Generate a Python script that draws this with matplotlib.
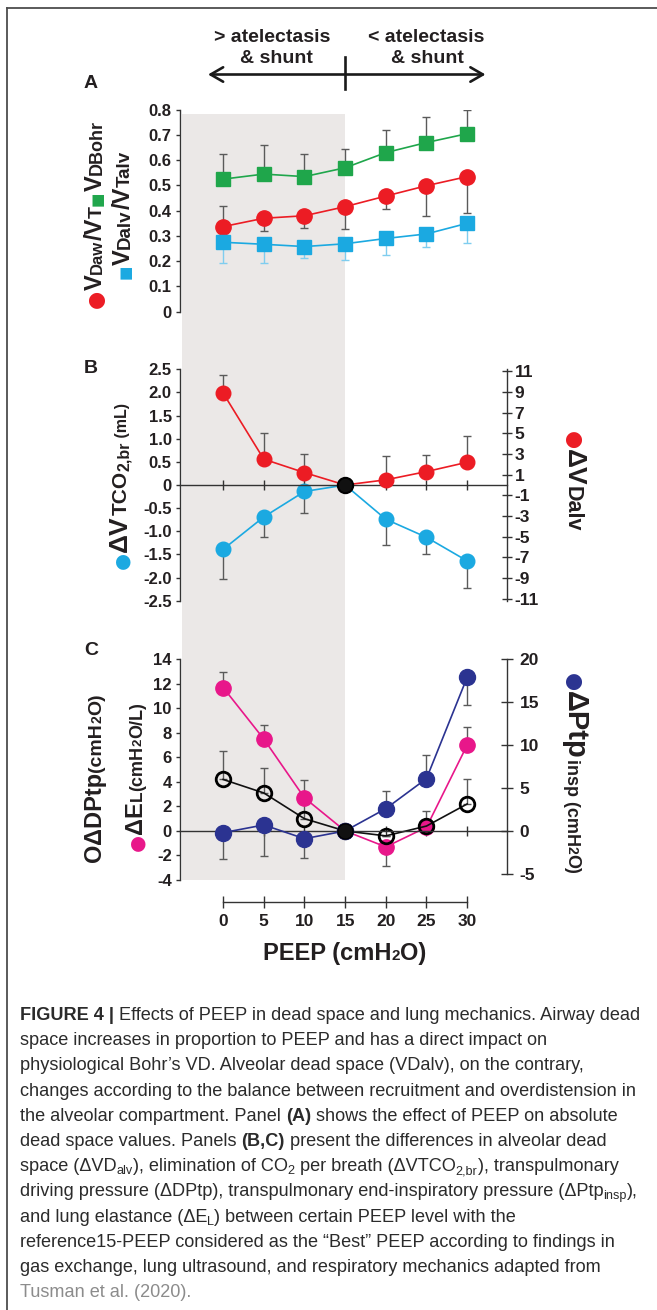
import matplotlib
matplotlib.use('Agg')
import matplotlib.pyplot as plt
from matplotlib import font_manager
from matplotlib.transforms import IdentityTransform, blended_transform_factory
from matplotlib.patches import FancyArrowPatch, ArrowStyle
from matplotlib.lines import Line2D

W, H, DPI = 657, 1310, 100

# ---------------- data ----------------
peep = [0, 5, 10, 15, 20, 25, 30]
ref_peep = 15
shade_from, shade_to = -5, 15

# Panel A (absolute dead space fractions)
vd_bohr = [0.525, 0.545, 0.535, 0.57, 0.63, 0.67, 0.705]
vd_bohr_err_up = [0.10, 0.115, 0.09, 0.075, 0.09, 0.10, 0.095]
vdaw_vt = [0.337, 0.370, 0.380, 0.416, 0.458, 0.499, 0.535]
vdaw_err_lo = [0.0, 0.05, 0.05, 0.09, 0.05, 0.12, 0.145]
vdaw_err_up = [0.08, 0.0, 0.0, 0.0, 0.0, 0.0, 0.0]
vdalv_vtalv = [0.275, 0.267, 0.258, 0.269, 0.290, 0.308, 0.350]
vdalv_err_lo = [0.081, 0.075, 0.047, 0.064, 0.064, 0.053, 0.077]
a_yticks = [0, 0.1, 0.2, 0.3, 0.4, 0.5, 0.6, 0.7, 0.8]

# Panel B
d_vtco2 = [-1.39, -0.69, -0.14, 0.0, -0.74, -1.13, -1.64]
d_vtco2_err_lo = [0.65, 0.44, 0.47, 0.0, 0.55, 0.36, 0.58]
d_vdalv = [8.9, 2.5, 1.2, 0.0, 0.5, 1.3, 2.2]
d_vdalv_err_up = [1.7, 2.55, 1.8, 0.0, 2.3, 1.65, 2.55]
b_left_ticks = [-2.5, -2.0, -1.5, -1.0, -0.5, 0, 0.5, 1.0, 1.5, 2.0, 2.5]
b_right_ticks = [-11, -9, -7, -5, -3, -1, 1, 3, 5, 7, 9, 11]

# Panel C
d_el = [11.7, 7.5, 2.7, 0.0, -1.3, 0.3, 7.0]
d_el_err_lo = [0, 0, 0, 0, 1.55, 0, 0]
d_el_err_up = [1.3, 1.15, 1.45, 0, 0, 1.3, 1.5]
d_dptp = [4.2, 3.1, 1.0, 0.0, -0.4, 0.4, 2.2]
d_dptp_err_up = [2.3, 2.0, 1.6, 0, 0, 0, 2.0]
d_ptp = [-0.2, 0.7, -0.9, 0.0, 2.6, 6.1, 17.9]
d_ptp_err_lo = [3.1, 3.6, 2.2, 0, 0, 0, 3.2]
d_ptp_err_up = [0, 0, 0, 0, 2.0, 2.8, 0]
c_left_ticks = [-4, -2, 0, 2, 4, 6, 8, 10, 12, 14]
c_right_ticks = [-5, 0, 5, 10, 15, 20]

# ---------------- style ----------------
GRAY = '#ebe8e7'
GREEN = '#1fa64b'
RED = '#ec1c24'
LBLUE = '#1ba9e1'
LBLUE_ERR = '#7fcdef'
MAGENTA = '#e8178a'
NAVY = '#2b3391'
ERR = '#5a5a5a'
TXT = '#231f20'


def font_ok(name):
    try:
        font_manager.findfont(font_manager.FontProperties(family=name),
                              fallback_to_default=False)
        return True
    except Exception:
        return False


SANS = 'Liberation Sans' if font_ok('Liberation Sans') else 'DejaVu Sans'
NARROW = 'Liberation Sans Narrow' if font_ok('Liberation Sans Narrow') else SANS
FAM = [SANS, 'DejaVu Sans']
NFAM = [NARROW, 'DejaVu Sans']
SYM = ['DejaVu Sans']

plt.rcParams['font.family'] = FAM
plt.rcParams['font.weight'] = 'bold'
plt.rcParams['axes.linewidth'] = 1.0
plt.rcParams['axes.unicode_minus'] = False
plt.rcParams['text.color'] = TXT

fig = plt.figure(figsize=(W / DPI, H / DPI), dpi=DPI)
renderer = fig.canvas.get_renderer()


def rect(l, t, r, b):
    return [l / W, 1 - b / H, (r - l) / W, (b - t) / H]


def piece_w(s, fp):
    w1, _, _ = renderer.get_text_width_height_descent('|' + s + '|', fp, ismath=False)
    w2, _, _ = renderer.get_text_width_height_descent('||', fp, ismath=False)
    return w1 - w2


def rich(x, y, pieces, rot=0, family=None, align='left'):
    family = family or FAM
    items = []
    total = 0.0
    for p in pieces:
        s, size, weight, color = p[:4]
        shift = p[4] if len(p) > 4 else 0
        fam = p[5] if len(p) > 5 else family
        fp = font_manager.FontProperties(family=fam, size=size, weight=weight)
        w = piece_w(s, fp)
        items.append((s, fp, color, shift, w))
        total += w
    off = -total / 2 if align == 'center' else 0
    cx, cy = x, H - y
    if rot == 0:
        cx += off
    elif rot == 90:
        cy += off
    else:
        cy -= off
    for s, fp, color, shift, w in items:
        if rot == 0:
            px, py = cx, cy + shift
        elif rot == 90:
            px, py = cx - shift, cy
        else:
            px, py = cx + shift, cy
        fig.text(px, py, s, transform=IdentityTransform(), fontproperties=fp,
                 color=color, rotation=rot, rotation_mode='anchor',
                 ha='left', va='baseline')
        if rot == 0:
            cx += w
        elif rot == 90:
            cy += w
        else:
            cy -= w
    return total


XL = (-5.3, 34.9)
L, R = 180, 507

# background shading spanning all panels
bg = fig.add_axes(rect(L, 114, R, 880))
bg.set_xlim(XL)
bg.axvspan(shade_from, shade_to, color=GRAY, lw=0)
bg.axis('off')


def clean(ax, keep):
    ax.patch.set_alpha(0)
    for k, sp in ax.spines.items():
        sp.set_visible(k in keep)
        sp.set_linewidth(1.0)
        sp.set_color('#333333')


eb_kw = dict(fmt='none', elinewidth=1.0, capsize=3, capthick=1.0)
TL = 12

# ---------------- Panel A ----------------
axA = fig.add_axes(rect(L, 109.7, R, 311.7))
clean(axA, ['left'])
axA.set_xlim(XL)
axA.set_ylim(0, 0.8)
axA.set_xticks([])
axA.set_yticks(a_yticks)
axA.set_yticklabels([f'{v:g}' for v in a_yticks])
axA.tick_params(axis='y', direction='out', length=3, width=1, labelsize=TL, pad=3,
                colors='#333333', labelcolor=TXT)
axA.errorbar(peep, vd_bohr, yerr=[[0] * 7, vd_bohr_err_up], ecolor=ERR, **eb_kw)
axA.errorbar(peep, vdaw_vt, yerr=[vdaw_err_lo, vdaw_err_up], ecolor=ERR, **eb_kw)
axA.errorbar(peep, vdalv_vtalv, yerr=[vdalv_err_lo, [0] * 7], ecolor=LBLUE_ERR, **eb_kw)
axA.plot(peep, vd_bohr, '-s', color=GREEN, lw=1.2, ms=9.5, mec=GREEN)
axA.plot(peep, vdaw_vt, '-o', color=RED, lw=1.2, ms=11, mec=RED)
axA.plot(peep, vdalv_vtalv, '-s', color=LBLUE, lw=1.2, ms=9.5, mec=LBLUE)

# ---------------- Panel B ----------------
axB = fig.add_axes(rect(L, 369.3, R, 600.7))
clean(axB, ['left', 'bottom'])
axB.set_xlim(XL)
axB.set_ylim(-2.5, 2.5)
axB.spines['bottom'].set_position(('data', 0))
axB.set_xticks(peep)
axB.set_xticklabels([])
axB.tick_params(axis='x', direction='inout', length=7, width=1, colors='#333333')
axB.set_yticks(b_left_ticks)
axB.set_yticklabels(['0' if v == 0 else f'{v:.1f}' for v in b_left_ticks])
axB.tick_params(axis='y', direction='out', length=3, width=1, labelsize=TL, pad=3,
                colors='#333333', labelcolor=TXT)
axB2 = axB.twinx()
clean(axB2, ['right'])
axB2.set_ylim(-11.2, 11.2)
axB2.set_yticks(b_right_ticks)
axB2.tick_params(axis='y', direction='inout', length=7, width=1, labelsize=12.5, pad=2,
                 colors='#333333', labelcolor=TXT)
axB.errorbar(peep, d_vtco2, yerr=[d_vtco2_err_lo, [0] * 7], ecolor=ERR, **eb_kw)
axB.plot(peep, d_vtco2, '-o', color=LBLUE, lw=1.2, ms=10.5, mec=LBLUE)
axB2.errorbar(peep, d_vdalv, yerr=[[0] * 7, d_vdalv_err_up], ecolor=ERR, **eb_kw)
axB2.plot(peep, d_vdalv, '-o', color=RED, lw=1.2, ms=10.5, mec=RED)
axB2.plot([ref_peep], [0], 'o', color='#111111', ms=11, mec='#000000', mew=1.5, zorder=5)

# ---------------- Panel C ----------------
axC = fig.add_axes(rect(L, 659.3, R, 880))
clean(axC, ['left', 'bottom'])
axC.set_xlim(XL)
axC.set_ylim(-4, 14)
axC.spines['bottom'].set_position(('data', 0))
axC.set_xticks(peep)
axC.set_xticklabels([])
axC.tick_params(axis='x', direction='inout', length=7, width=1, colors='#333333')
axC.set_yticks(c_left_ticks)
axC.tick_params(axis='y', direction='out', length=3, width=1, labelsize=TL, pad=3,
                colors='#333333', labelcolor=TXT)
axC2 = axC.twinx()
clean(axC2, ['right'])
c_rmax = 20
axC2.set_ylim(c_rmax * (-4) / 14, c_rmax)
axC2.spines['right'].set_bounds(-5, 20)
axC2.set_yticks(c_right_ticks)
axC2.tick_params(axis='y', direction='inout', length=8, width=1, labelsize=12.5, pad=5,
                 colors='#333333', labelcolor=TXT)

axC.errorbar(peep, d_el, yerr=[d_el_err_lo, d_el_err_up], ecolor=ERR, **eb_kw)
axC.errorbar(peep, d_dptp, yerr=[[0] * 7, d_dptp_err_up], ecolor=ERR, **eb_kw)
axC.plot(peep, d_el, '-o', color=MAGENTA, lw=1.2, ms=11, mec=MAGENTA)
axC.plot(peep, d_dptp, '-o', color='#111111', lw=1.2, ms=10.5, mfc='none',
         mec='#000000', mew=2.0)
axC2.errorbar(peep, d_ptp, yerr=[d_ptp_err_lo, d_ptp_err_up], ecolor=ERR, **eb_kw)
axC2.plot(peep, d_ptp, '-o', color=NAVY, lw=1.2, ms=11.5, mec=NAVY)
axC2.plot([ref_peep], [0], 'o', color='#111111', ms=11, mec='#000000', zorder=5)

# separate PEEP axis
axX = fig.add_axes(rect(L, 901, R, 902))
clean(axX, ['bottom'])
axX.set_xlim(XL)
axX.spines['bottom'].set_bounds(peep[0], peep[-1])
axX.set_xticks(peep)
axX.set_yticks([])
axX.tick_params(axis='x', direction='inout', length=9, width=1, labelsize=12.5, pad=4,
                colors='#333333', labelcolor=TXT)

rich(345, 960, [('PEEP (cmH', 17, 'bold', TXT), ('2', 11, 'bold', TXT),
                ('O)', 17, 'bold', TXT)], align='center')

# ---------------- header arrows ----------------
for xc, yb, s in [(272, 42, '> atelectasis'), (276, 63, '& shunt'),
                  (426, 42, '< atelectasis'), (427, 63, '& shunt')]:
    fig.text(xc / W, 1 - yb / H, s, ha='center', va='baseline',
             fontsize=14, fontweight='bold')
tr = blended_transform_factory(axA.transData, fig.transFigure)
arrow = FancyArrowPatch((-2.2, 1 - 74.5 / H), (32.6, 1 - 74.5 / H), transform=tr,
                        arrowstyle=ArrowStyle('<->', head_length=9, head_width=5.2),
                        mutation_scale=1, lw=1.9, color='#1a1a1a')
fig.add_artist(arrow)
fig.add_artist(Line2D([ref_peep, ref_peep], [1 - 57 / H, 1 - 89 / H], transform=tr,
                      color='#1a1a1a', lw=1.9))

# panel letters
for letter, yb in [('A', 88), ('B', 373), ('C', 655)]:
    fig.text(84 / W, 1 - yb / H, letter, fontsize=14, fontweight='bold',
             ha='left', va='baseline')

# ---------------- axis legend-labels ----------------
B = 'bold'
rich(102, 308, [('●', 15, N := 'normal', RED, 0, SYM), ('V', 17, B, TXT), ('Daw', 12, B, TXT),
                ('/V', 17, B, TXT), ('T', 14, B, TXT), ('■', 11, 'normal', GREEN, 0, SYM),
                ('V', 17, B, TXT), ('DBohr', 13, B, TXT)], rot=90)
rich(130, 279, [('■', 11, 'normal', LBLUE, 0, SYM), ('V', 17, B, TXT), ('Dalv', 13.5, B, TXT),
                ('/V', 17, B, TXT), ('Talv', 13.5, B, TXT)], rot=90)

rich(127, 569, [('●', 14, 'normal', LBLUE, 0, SYM), ('ΔV', 19, B, TXT), ('TCO', 15, B, TXT),
                ('2,br', 11.5, B, TXT, -2), (' (mL)', 11.5, B, TXT)], rot=90)
rich(567, 431, [('●', 15, 'normal', RED, 0, SYM), ('ΔV', 19, B, TXT),
                ('Dalv', 15.5, B, TXT)], rot=270)

rich(101, 862, [('O', 17, B, TXT), ('ΔDPtp', 17, B, TXT), ('(cmH', 14, B, TXT),
                ('2', 10, B, TXT), ('O)', 14, B, TXT)], rot=90)
rich(142, 851, [('●', 14, 'normal', MAGENTA, 0, SYM), ('ΔE', 17, B, TXT), ('L', 12.5, B, TXT),
                ('(cmH', 13, B, TXT), ('2', 9.5, B, TXT), ('O/L)', 13, B, TXT)], rot=90)
rich(567, 673, [('●', 15, 'normal', NAVY, 0, SYM), ('ΔPtp', 21, B, TXT),
                ('insp (cmH', 13, B, TXT), ('2', 10, B, TXT), ('O)', 13, B, TXT)], rot=270)

# ---------------- caption ----------------
CAPC = '#2b2b2b'
LINKC = '#8c8c8c'
cap_lines = [
    [('FIGURE 4 |', B, CAPC), (' Effects of PEEP in dead space and lung mechanics. Airway dead', N, CAPC)],
    [('space increases in proportion to PEEP and has a direct impact on', N, CAPC)],
    [('physiological Bohr\u2019s VD. Alveolar dead space (VDalv), on the contrary,', N, CAPC)],
    [('changes according to the balance between recruitment and overdistension in', N, CAPC)],
    [('the alveolar compartment. Panel ', N, CAPC), ('(A)', B, CAPC),
     (' shows the effect of PEEP on absolute', N, CAPC)],
    [('dead space values. Panels ', N, CAPC), ('(B,C)', B, CAPC),
     (' present the differences in alveolar dead', N, CAPC)],
    [('space (ΔVD', N, CAPC), ('alv', N, CAPC, 'sub'), ('), elimination of CO', N, CAPC),
     ('2', N, CAPC, 'sub'), (' per breath (ΔVTCO', N, CAPC), ('2,br', N, CAPC, 'sub'),
     ('), transpulmonary', N, CAPC)],
    [('driving pressure (ΔDPtp), transpulmonary end-inspiratory pressure (ΔPtp', N, CAPC),
     ('insp', N, CAPC, 'sub'), ('),', N, CAPC)],
    [('and lung elastance (ΔE', N, CAPC), ('L', N, CAPC, 'sub'),
     (') between certain PEEP level with the', N, CAPC)],
    [('reference15-PEEP considered as the \u201cBest\u201d PEEP according to findings in', N, CAPC)],
    [('gas exchange, lung ultrasound, and respiratory mechanics adapted from', N, CAPC)],
    [('Tusman et al. (2020).', N, LINKC)],
]

# fit caption size so the first line spans the measured width
w10 = 0.0
for s, wt, c, *rest in cap_lines[0]:
    w10 += piece_w(s, font_manager.FontProperties(family=NFAM, size=10, weight=wt))
cap_size = 10 * 621 / w10

for i, line in enumerate(cap_lines):
    pieces = []
    for s, wt, c, *rest in line:
        if rest and rest[0] == 'sub':
            pieces.append((s, cap_size * 0.7, wt, c, -3))
        else:
            pieces.append((s, cap_size, wt, c, 0))
    rich(20, 1020 + 25.2 * i, pieces, family=NFAM)

# figure border (top and left)
fig.add_artist(Line2D([7 / W, 1], [1 - 8 / H, 1 - 8 / H], transform=fig.transFigure,
                      color='#4d4d4d', lw=1.3))
fig.add_artist(Line2D([7 / W, 7 / W], [0, 1 - 8 / H], transform=fig.transFigure,
                      color='#4d4d4d', lw=1.3))

fig.savefig('out.png', dpi=DPI)
